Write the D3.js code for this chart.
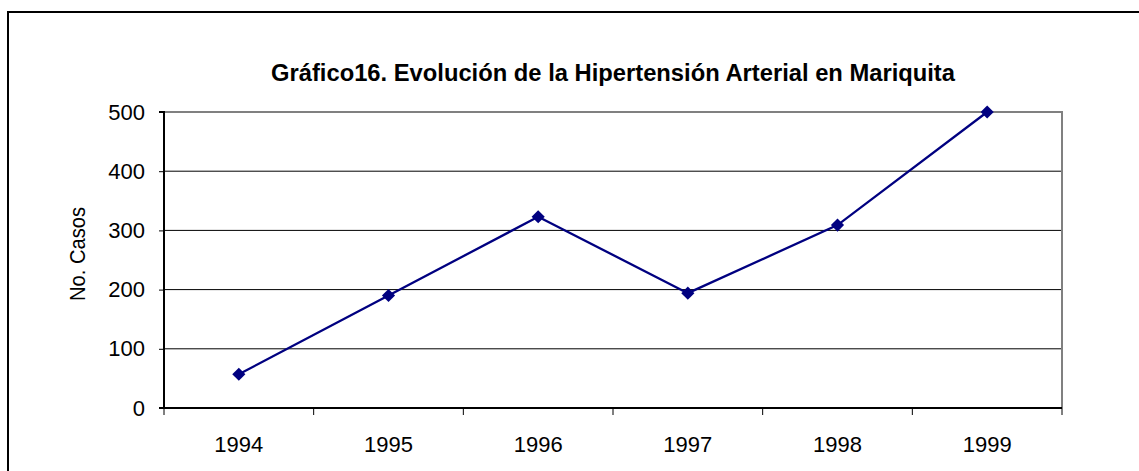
<!DOCTYPE html>
<html>
<head>
<meta charset="utf-8">
<script src="https://cdn.jsdelivr.net/npm/d3@7"></script>
<style>
  body { margin: 0; background: #fff; }
  text { font-family: "Liberation Sans", Arial, sans-serif; fill: #000; }
</style>
</head>
<body>
<svg id="chart" width="1139" height="471"></svg>
<script>
// data
const years = ["1994", "1995", "1996", "1997", "1998", "1999"];
const casos = [57, 190, 323, 194, 309, 500];
const yTicks = [0, 100, 200, 300, 400, 500];
const titleText = "Gráfico16. Evolución de la Hipertensión Arterial en Mariquita";
const yLabel = "No. Casos";

var svg = d3.select("#chart");

// outer frame (only left and top edges are in view)
svg.append("rect")
  .attr("x", 8).attr("y", 12)
  .attr("width", 1150).attr("height", 480)
  .attr("fill", "#fff")
  .attr("stroke", "#000")
  .attr("stroke-width", 2);

var plot = { left: 164, right: 1062, top: 112, bottom: 408 };

var x = d3.scaleBand().domain(years).range([plot.left, plot.right]);
var y = d3.scaleLinear().domain([0, 500]).range([plot.bottom, plot.top]);

// gridlines
svg.append("g")
  .selectAll("line")
  .data(yTicks.filter((t) => t > 0 && t < 500))
  .enter()
  .append("line")
  .attr("x1", plot.left).attr("x2", plot.right)
  .attr("y1", (d) => y(d)).attr("y2", (d) => y(d))
  .attr("stroke", "#000").attr("stroke-width", 1);

// plot area border (gray top/right)
svg.append("path")
  .attr("d", `M${plot.left},${y(500)}H${plot.right}V${plot.bottom}`)
  .attr("fill", "none")
  .attr("stroke", "#808080")
  .attr("stroke-width", 2);

// y axis
var yAxis = d3.axisLeft(y).tickValues(yTicks).tickSize(5).tickPadding(14);
var gy = svg.append("g")
  .attr("transform", `translate(${plot.left},0)`)
  .call(yAxis);
gy.select(".domain").attr("stroke", "#000").attr("stroke-width", 2)
  .attr("d", `M-5,${plot.top}H0V${plot.bottom}H-5`);
gy.selectAll("text").style("font-size", "22px").attr("font-family", null);
gy.selectAll(".tick line").attr("stroke", "#000");

// x axis: ticks on category boundaries
var gx = svg.append("g").attr("transform", `translate(0,${plot.bottom})`);
gx.append("line")
  .attr("x1", plot.left).attr("x2", plot.right)
  .attr("stroke", "#000").attr("stroke-width", 2);
gx.selectAll(".bound")
  .data(years.concat(["end"]))
  .enter()
  .append("line")
  .attr("class", "bound")
  .attr("x1", (d, i) => plot.left + i * x.step())
  .attr("x2", (d, i) => plot.left + i * x.step())
  .attr("y1", 0).attr("y2", 7)
  .attr("stroke", "#000");
gx.selectAll(".lbl")
  .data(years)
  .enter()
  .append("text")
  .attr("class", "lbl")
  .attr("x", (d) => x(d) + x.bandwidth() / 2)
  .attr("y", 44)
  .attr("text-anchor", "middle")
  .style("font-size", "22px")
  .text((d) => d);

// line + diamond markers
var pts = years.map((yr, i) => ({ yr: yr, v: casos[i] }));
var line = d3.line()
  .x((d) => x(d.yr) + x.bandwidth() / 2)
  .y((d) => y(d.v));

svg.append("path")
  .datum(pts)
  .attr("d", line)
  .attr("fill", "none")
  .attr("stroke", "#000080")
  .attr("stroke-width", 2.3);

svg.append("g")
  .selectAll("path")
  .data(pts)
  .enter()
  .append("path")
  .attr("d", d3.symbol().type(d3.symbolDiamond2).size(110))
  .attr("transform", (d) => `translate(${x(d.yr) + x.bandwidth() / 2},${y(d.v)})`)
  .attr("fill", "#000080");

// title
svg.append("text")
  .attr("x", 613)
  .attr("y", 81)
  .attr("text-anchor", "middle")
  .style("font-size", "23px")
  .style("font-weight", "bold")
  .attr("textLength", 684)
  .attr("lengthAdjust", "spacingAndGlyphs")
  .text(titleText);

// y label
svg.append("text")
  .attr("transform", "translate(85,254) rotate(-90)")
  .attr("text-anchor", "middle")
  .style("font-size", "22px")
  .attr("textLength", 94)
  .attr("lengthAdjust", "spacingAndGlyphs")
  .text(yLabel);
</script>
</body>
</html>
